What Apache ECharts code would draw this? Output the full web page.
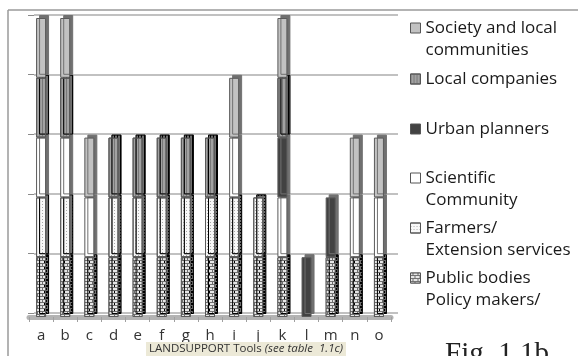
<!DOCTYPE html>
<html><head><meta charset="utf-8">
<script src="https://cdn.jsdelivr.net/npm/echarts@6/dist/echarts.min.js"></script>
<style>html,body{margin:0;padding:0;background:#fff}#c{width:578px;height:356px}</style>
</head><body><div id="c"></div>
<script>
const categories = ['a','b','c','d','e','f','g','h','i','j','k','l','m','n','o'];
const publicBodies   = [1,1,1,1,1,1,1,1,1,1,1,null,1,1,1];
const farmers        = [1,1,null,1,1,1,1,1,1,1,null,null,null,null,null];
const scientific     = [1,1,1,null,null,null,null,null,1,null,1,null,null,1,1];
const urban          = [null,null,null,null,null,null,null,null,null,null,1,1,1,null,null];
const localCompanies = [1,1,null,1,1,1,1,1,null,null,1,null,null,null,null];
const society        = [1,1,1,null,null,null,null,null,1,null,1,null,null,1,1];
const yMax = 5;
const names = {
  pub: 'Public bodies\nPolicy makers/',
  farm: 'Farmers/\nExtension services',
  sci: 'Scientific\nCommunity',
  urb: 'Urban planners',
  loc: 'Local companies',
  soc: 'Society and local\ncommunities'
};
const xTitle = '{n|LANDSUPPORT Tools }{i|(see table  1.1c)}';
const figLabel = 'Fig. 1.1b';

const chart = echarts.init(document.getElementById('c'), null, {renderer:'canvas'});
const baseStyle = {borderColor:'#5a5a5a', borderWidth:1, shadowColor:'#707070', shadowBlur:0, shadowOffsetX:3, shadowOffsetY:-3};
function mk(name, data, color, decal){
  const it = Object.assign({color}, baseStyle);
  if (decal) it.decal = decal;
  return {name, type:'bar', stack:'s', data, barWidth:10, xAxisIndex:0, yAxisIndex:0, itemStyle: it, emphasis:{disabled:true}, animation:false};
}
const series = [
  mk(names.pub, publicBodies, '#6e6e6e', {symbol:'rect', symbolSize:1, color:'#e6e6e6', dashArrayX:[[4,1],[2,1,2,0]], dashArrayY:[2,1], rotation:0}),
  mk(names.farm, farmers, '#f8f8f8', {symbol:'rect', symbolSize:1, color:'#a8a8a8', dashArrayX:[1,2], dashArrayY:[1,2], rotation:0}),
  mk(names.sci, scientific, '#ffffff'),
  mk(names.urb, urban, '#424242'),
  mk(names.loc, localCompanies, '#a2a2a2', {symbol:'rect', symbolSize:1, color:'#787878', dashArrayX:[1,2], dashArrayY:[4,0], rotation:0}),
  mk(names.soc, society, '#c2c2c2')
];
const legendOrder = [
  [names.soc, 28, true], [names.loc, 78, false], [names.urb, 128, false],
  [names.sci, 178, true], [names.farm, 228, true], [names.pub, 278, true]
];
const legends = legendOrder.map(([n, y, two]) => ({
  left: 410, top: two ? y - 33 : y - 10, padding: 0, orient:'vertical',
  icon:'rect', itemWidth:10, itemHeight:10, selectedMode:false,
  itemStyle:{borderColor:'#555555', borderWidth:1, shadowColor:'rgba(0,0,0,0)', shadowOffsetX:0, shadowOffsetY:0},
  textStyle:{fontFamily:'Open Sans', fontSize:17, color:'#1a1a1a', lineHeight:22},
  formatter: two ? (nm => ' \n' + nm) : (nm => nm),
  data:[n]
}));

chart.setOption({
  animation:false,
  grid:[
    {left:29, right:187, top:18, bottom:39},
    {left:34, right:180, top:15, bottom:43, z:0}
  ],
  xAxis:[
    {type:'category', gridIndex:0, data:categories,
     axisLine:{lineStyle:{color:'#b3b3b3', width:5}},
     axisTick:{show:true, length:5, lineStyle:{color:'#a0a0a0'}},
     axisLabel:{fontFamily:'Open Sans', fontSize:15, color:'#333', margin:11}},
    {type:'category', gridIndex:1, data:categories, show:false}
  ],
  yAxis:[
    {type:'value', gridIndex:0, min:0, max:yMax, interval:1, show:false, splitLine:{show:false}},
    {type:'value', gridIndex:1, min:0, max:yMax, interval:1, z:0,
     axisLine:{show:false}, axisLabel:{show:false},
     axisTick:{show:true, length:6, lineStyle:{color:'#8a8a8a'}},
     splitLine:{show:true, lineStyle:{color:'#acacac', width:1.5}}}
  ],
  legend: legends,
  title:[
    {text:xTitle, left:146, top:342, padding:[1,3], backgroundColor:'#ece9d7',
     textStyle:{fontWeight:'normal', rich:{n:{fontFamily:'Open Sans', fontSize:11.5, fontWeight:'normal', color:'#333'}, i:{fontFamily:'Open Sans', fontSize:11.5, fontStyle:'italic', fontWeight:'normal', color:'#333'}}}},
    {text:figLabel, left:445, top:340, padding:0,
     textStyle:{fontFamily:'Liberation Serif', fontSize:29, fontWeight:'normal', color:'#222'}}
  ],
  graphic:[
    {type:'line', shape:{x1:8, y1:10, x2:578, y2:10}, style:{stroke:'#9a9a9a', lineWidth:1.5}, silent:true},
    {type:'line', shape:{x1:8, y1:10, x2:8, y2:356}, style:{stroke:'#9a9a9a', lineWidth:1.5}, silent:true}
  ],
  series
});
</script></body></html>
